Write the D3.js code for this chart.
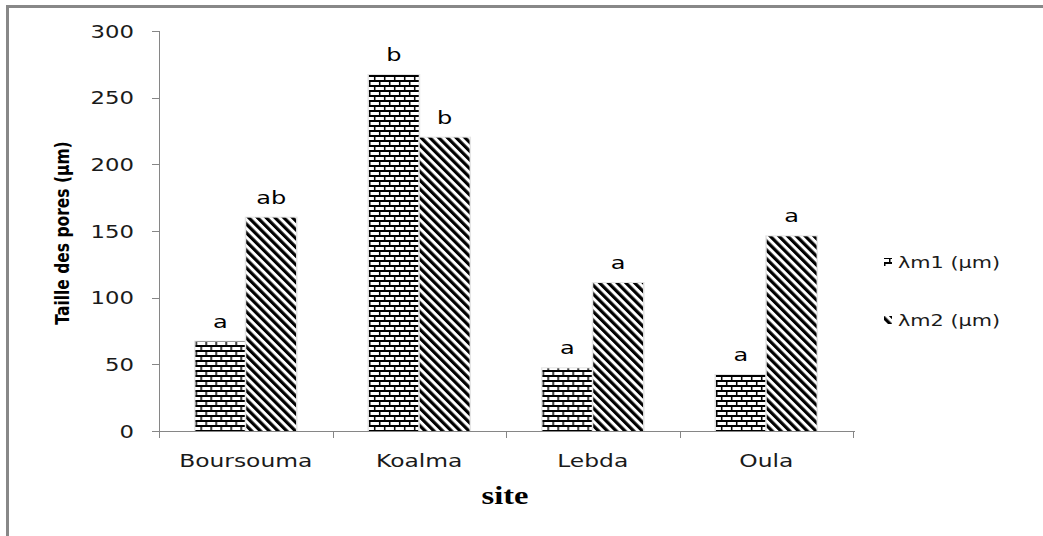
<!DOCTYPE html>
<html>
<head>
<meta charset="utf-8">
<script src="https://cdn.jsdelivr.net/npm/d3@7"></script>
<style>
  body { margin: 0; background: #fff; }
  svg text { font-family: "DejaVu Sans", sans-serif; }
</style>
</head>
<body>
<div id="chart"></div>
<script>

// data
var sites = ["Boursouma", "Koalma", "Lebda", "Oula"];
var series = ["λm1 (µm)", "λm2 (µm)"];
var lm1 = [67, 267, 47, 42];
var lm2 = [160, 220, 111, 146];
var letters1 = ["a", "b", "a", "a"];
var letters2 = ["ab", "b", "a", "a"];
var yTicks = [0, 50, 100, 150, 200, 250, 300];

var W = 1043, H = 536;
var sx = 1.3; // the original figure is stretched sideways

var svg = d3.select("#chart").append("svg")
  .attr("width", W)
  .attr("height", H);

// patterns
var defs = svg.append("defs");

var brick = defs.append("pattern")
  .attr("id", "brick")
  .attr("patternUnits", "userSpaceOnUse")
  .attr("width", 10)
  .attr("height", 10);
brick.append("rect").attr("width", 10).attr("height", 10).attr("fill", "#fff");
brick.append("rect").attr("x", 0).attr("y", 0).attr("width", 10).attr("height", 2).attr("fill", "#000");
brick.append("rect").attr("x", 0).attr("y", 5).attr("width", 10).attr("height", 2).attr("fill", "#000");
brick.append("rect").attr("x", 0).attr("y", 2).attr("width", 1.5).attr("height", 3).attr("fill", "#000");
brick.append("rect").attr("x", 5).attr("y", 7).attr("width", 1.5).attr("height", 3).attr("fill", "#000");

var diag = defs.append("pattern")
  .attr("id", "diag")
  .attr("patternUnits", "userSpaceOnUse")
  .attr("width", 6.2)
  .attr("height", 10)
  .attr("patternTransform", "rotate(-45)");
diag.append("rect").attr("width", 6.2).attr("height", 10).attr("fill", "#fff");
diag.append("rect").attr("x", 0).attr("y", 0).attr("width", 3.2).attr("height", 10).attr("fill", "#000");

var fills = ["url(#brick)", "url(#diag)"];

// outer frame (only left and top edges are visible)
svg.append("line")
  .attr("x1", 7.5).attr("y1", 6.5).attr("x2", 7.5).attr("y2", H)
  .attr("stroke", "#888").attr("stroke-width", 3);
svg.append("line")
  .attr("x1", 6).attr("y1", 6.5).attr("x2", W).attr("y2", 6.5)
  .attr("stroke", "#888").attr("stroke-width", 3);

// scales
var x0 = 159, x1 = 853, yTop = 31, yBot = 431;

var xScale = d3.scaleBand()
  .domain(sites)
  .range([x0, x1])
  .paddingInner(0.42)
  .paddingOuter(0.21);

var xInner = d3.scaleBand()
  .domain([0, 1])
  .range([0, xScale.bandwidth()])
  .paddingInner(0.02);

var yScale = d3.scaleLinear()
  .domain([0, 300])
  .range([yBot, yTop]);

var axisColor = "#868686";

// y axis
svg.append("line")
  .attr("x1", x0 + 0.5).attr("y1", yTop).attr("x2", x0 + 0.5).attr("y2", yBot)
  .attr("stroke", axisColor);

svg.selectAll(".ytick")
  .data(yTicks)
  .enter()
  .append("line")
  .attr("class", "ytick")
  .attr("x1", x0 - 7).attr("x2", x0)
  .attr("y1", function(d) { return Math.round(yScale(d)) + 0.5; })
  .attr("y2", function(d) { return Math.round(yScale(d)) + 0.5; })
  .attr("stroke", axisColor);

svg.selectAll(".ylabel")
  .data(yTicks)
  .enter()
  .append("text")
  .attr("class", "ylabel")
  .attr("transform", function(d) { return "translate(134," + (yScale(d) + 6.5) + ") scale(" + sx + ",1)"; })
  .attr("text-anchor", "end")
  .style("font-size", "17.5px")
  .style("fill", "#1a1a1a")
  .text(function(d) { return d; });

// x axis
svg.append("line")
  .attr("x1", x0 - 7).attr("y1", yBot + 0.5).attr("x2", x1 + 2).attr("y2", yBot + 0.5)
  .attr("stroke", axisColor);

// category boundaries sit half an inner gap before each band
var half = xScale.step() * xScale.paddingInner() / 2;
var catEdges = sites.map(function(d) { return xScale(d) - half; });
catEdges.push(xScale(sites[sites.length - 1]) + xScale.bandwidth() + half);

svg.selectAll(".xtick")
  .data(catEdges)
  .enter()
  .append("line")
  .attr("class", "xtick")
  .attr("x1", function(d) { return Math.round(d) + 0.5; })
  .attr("x2", function(d) { return Math.round(d) + 0.5; })
  .attr("y1", yBot)
  .attr("y2", yBot + 7)
  .attr("stroke", axisColor);

svg.selectAll(".xlabel")
  .data(sites)
  .enter()
  .append("text")
  .attr("class", "xlabel")
  .attr("transform", function(d) {
    return "translate(" + (xScale(d) + xScale.bandwidth() / 2) + ",467) scale(" + sx + ",1)";
  })
  .attr("text-anchor", "middle")
  .style("font-size", "18px")
  .style("fill", "#1a1a1a")
  .text(function(d) { return d; });

// bars
var rows = sites.map(function(s, i) {
  return { site: s, vals: [lm1[i], lm2[i]], letters: [letters1[i], letters2[i]] };
});

var groups = svg.selectAll(".site")
  .data(rows)
  .enter()
  .append("g")
  .attr("class", "site")
  .attr("transform", function(d) { return "translate(" + xScale(d.site) + ",0)"; });

var cells = groups.selectAll(".cell")
  .data(function(d) {
    return d.vals.map(function(v, k) { return { k: k, v: v, letter: d.letters[k] }; });
  })
  .enter()
  .append("g")
  .attr("class", "cell");

// soft grey edge round each bar
cells.append("rect")
  .attr("x", function(d) { return xInner(d.k) - 1.5; })
  .attr("y", function(d) { return yScale(d.v) - 1; })
  .attr("width", xInner.bandwidth() + 3)
  .attr("height", function(d) { return yBot - yScale(d.v) + 1; })
  .attr("fill", "#e4e4e4");

cells.append("rect")
  .attr("x", function(d) { return xInner(d.k); })
  .attr("y", function(d) { return yScale(d.v); })
  .attr("width", xInner.bandwidth())
  .attr("height", function(d) { return yBot - yScale(d.v); })
  .attr("fill", function(d) { return fills[d.k]; });

cells.append("text")
  .attr("transform", function(d) {
    return "translate(" + (xInner(d.k) + xInner.bandwidth() / 2) + "," + (yScale(d.v) - 14) + ") scale(" + sx + ",1)";
  })
  .attr("text-anchor", "middle")
  .style("font-size", "18.5px")
  .style("fill", "#000")
  .text(function(d) { return d.letter; });

// y title
svg.append("text")
  .attr("transform", "translate(69,233) scale(" + sx + ",1) rotate(-90)")
  .attr("text-anchor", "middle")
  .style("font-size", "15.5px")
  .style("font-weight", "bold")
  .style("fill", "#000")
  .text("Taille des pores (µm)");

// x title
svg.append("text")
  .attr("transform", "translate(505,504) scale(" + sx + ",1)")
  .attr("text-anchor", "middle")
  .style("font-family", "'Liberation Serif', serif")
  .style("font-size", "25px")
  .style("font-weight", "bold")
  .style("fill", "#000")
  .text("site");

// legend
var legend = svg.selectAll(".legend")
  .data(series)
  .enter()
  .append("g")
  .attr("class", "legend")
  .attr("transform", function(d, i) { return "translate(884," + (262 + i * 58) + ")"; });

legend.append("rect")
  .attr("x", 0).attr("y", -4)
  .attr("width", 8).attr("height", 8)
  .attr("fill", function(d, i) { return fills[i]; });

legend.append("text")
  .attr("transform", "translate(14,6) scale(" + sx + ",1)")
  .style("font-size", "16px")
  .style("fill", "#1a1a1a")
  .text(function(d) { return d; });

</script>
</body>
</html>
